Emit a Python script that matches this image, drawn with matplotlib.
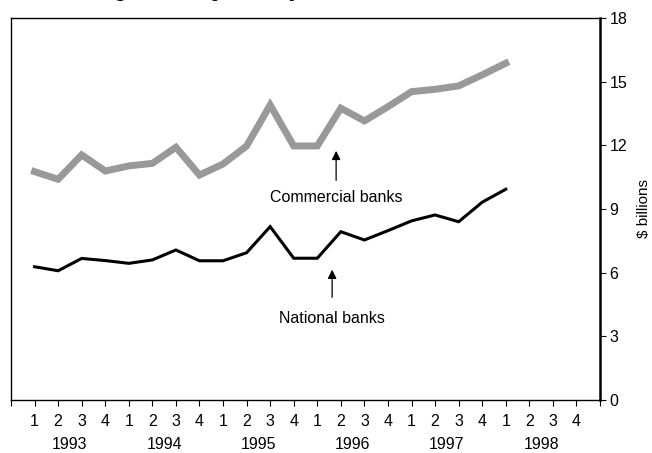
import numpy as np
import matplotlib
matplotlib.use('Agg')
import matplotlib.pyplot as plt

plt.rcParams['font.family'] = ['Liberation Sans', 'DejaVu Sans']

# quarterly net income, $ billions, 1993Q1 - 1998Q1
commercial = [10.76, 10.40, 11.55, 10.79, 11.03, 11.15, 11.91, 10.60, 11.12, 11.97,
              13.90, 11.97, 11.97, 13.75, 13.15, 13.82, 14.53, 14.64, 14.80, 15.32, 15.87]
national = [6.28, 6.09, 6.67, 6.57, 6.44, 6.60, 7.07, 6.56, 6.56, 6.94,
            8.17, 6.68, 6.68, 7.93, 7.54, 7.98, 8.44, 8.72, 8.40, 9.32, 9.93]
years = ['1993', '1994', '1995', '1996', '1997', '1998']
quarters = ['1', '2', '3', '4']
yticks = [0, 3, 6, 9, 12, 15, 18]

fs = 11.5

fig = plt.figure(figsize=(6.52, 4.53), dpi=100)
ax = fig.add_axes([11/652, 1-400/453, 589/652, 382/453])

x = np.arange(len(commercial))
ax.plot(x, commercial, color='#999999', lw=5, solid_joinstyle='miter')
ax.plot(x, national, color='black', lw=2.2, solid_joinstyle='miter')

ax.set_xlim(-1, 24)
ax.set_ylim(0, 18)

# quarter ticks
nq = len(years) * len(quarters)
ax.set_xticks(np.arange(-1, nq + 1))
ax.set_xticklabels([''] + quarters * len(years) + [''], fontsize=fs)
ax.tick_params(axis='x', direction='out', length=4, width=0.8, pad=6)
for i, yr in enumerate(years):
    ax.text(i * 4 + 1.5, -0.116, yr, transform=ax.get_xaxis_transform(),
            ha='center', va='center', fontsize=fs)

# y axis on the right
ax.yaxis.tick_right()
ax.yaxis.set_label_position('right')
ax.set_yticks(yticks)
ax.set_yticklabels([str(v) for v in yticks], fontsize=fs)
ax.tick_params(axis='y', direction='out', length=4, width=0.8, pad=3)
ax.set_ylabel('$ billions', fontsize=11, labelpad=7)

for s in ax.spines.values():
    s.set_linewidth(1.0)
ax.spines['right'].set_linewidth(1.8)

# annotations
ax.annotate('', xy=(12.8, 11.87), xytext=(12.8, 10.22),
            arrowprops=dict(arrowstyle='-|>', color='black', lw=0.9, mutation_scale=13))
ax.text(12.8, 9.56, 'Commercial banks', ha='center', va='center', fontsize=fs)
ax.annotate('', xy=(12.63, 6.27), xytext=(12.63, 4.71),
            arrowprops=dict(arrowstyle='-|>', color='black', lw=0.9, mutation_scale=13))
ax.text(12.63, 3.86, 'National banks', ha='center', va='center', fontsize=fs)

# title, mostly cut off at top in the reference
fig.text(0.492, 1 + 4/453, 'Figure 1\u2014Quarterly net income, 1993\u20131998',
         ha='center', va='baseline', fontsize=16, fontweight='bold')

fig.savefig('out.png', dpi=100)
